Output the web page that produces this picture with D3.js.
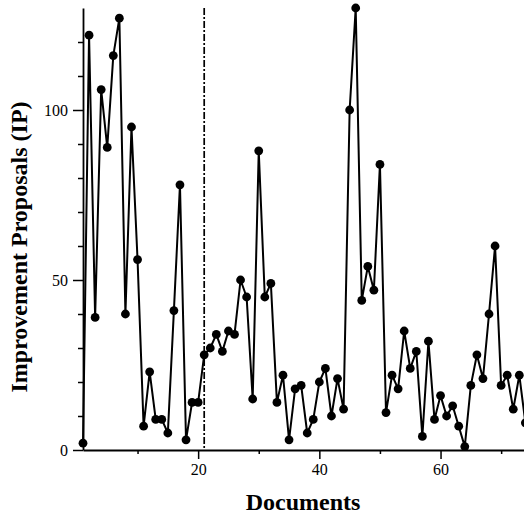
<!DOCTYPE html>
<html>
<head>
<meta charset="utf-8">
<script src="https://cdn.jsdelivr.net/npm/d3@7"></script>
<style>
    body { margin: 0; background: #fff; }
    svg { display: block; }
</style>
</head>
<body>
<svg id="drawing_region"></svg>
<script>
// Document numbers (x) and improvement proposals per document (y)
const documents = [1, 2, 3, 4, 5, 6, 7, 8, 9, 10, 11, 12, 13, 14, 15, 16, 17, 18, 19, 20,
    21, 22, 23, 24, 25, 26, 27, 28, 29, 30, 31, 32, 33, 34, 35, 36, 37, 38, 39, 40,
    41, 42, 43, 44, 45, 46, 47, 48, 49, 50, 51, 52, 53, 54, 55, 56, 57, 58, 59, 60,
    61, 62, 63, 64, 65, 66, 67, 68, 69, 70, 71, 72, 73, 74];
const proposals = [2, 122, 39, 106, 89, 116, 127, 40, 95, 56, 7, 23, 9, 9, 5, 41, 78, 3, 14, 14,
    28, 30, 34, 29, 35, 34, 50, 45, 15, 88, 45, 49, 14, 22, 3, 18, 19, 5, 9, 20,
    24, 10, 21, 12, 100, 130, 44, 54, 47, 84, 11, 22, 18, 35, 24, 29, 4, 32, 9, 16,
    10, 13, 7, 1, 19, 28, 21, 40, 60, 19, 22, 12, 22, 8];
const xMajorTicks = [20, 40, 60];
const xMinorTicks = [10, 30, 50, 70];
const yMajorTicks = [0, 50, 100];
const yMinorTicks = [10, 20, 30, 40, 60, 70, 80, 90, 110, 120];
const splitDocument = 21;
const xLabel = 'Documents';
const yLabel = 'Improvement Proposals (IP)';

const data = documents.map((d, i) => ({ x: d, y: proposals[i] }));

const config = {
    parent: '#drawing_region',
    width: 524,
    height: 515,
    left: 83,
    top: 8,
    bottom: 450,
    unit: 6.06,
};

const svg = d3.select(config.parent)
    .attr('width', config.width)
    .attr('height', config.height);

const xscale = d3.scaleLinear()
    .domain([1, 74])
    .range([config.left, config.left + 73 * config.unit]);

const yscale = d3.scaleLinear()
    .domain([0, 130])
    .range([config.bottom, config.top]);

const font = '"Liberation Serif", "Times New Roman", serif';

// x axis: labelled major ticks and short minor ticks
svg.append('g')
    .attr('transform', `translate(0, ${config.bottom})`)
    .call(d3.axisBottom(xscale).tickValues(xMajorTicks).tickSize(9).tickPadding(5).tickSizeOuter(0));
svg.append('g')
    .attr('transform', `translate(0, ${config.bottom})`)
    .call(d3.axisBottom(xscale).tickValues(xMinorTicks).tickSize(4).tickFormat('').tickSizeOuter(0))
    .select('.domain').remove();

// y axis
svg.append('g')
    .attr('transform', `translate(${config.left}, 0)`)
    .call(d3.axisLeft(yscale).tickValues(yMajorTicks).tickSize(10).tickPadding(5).tickSizeOuter(0));
svg.append('g')
    .attr('transform', `translate(${config.left}, 0)`)
    .call(d3.axisLeft(yscale).tickValues(yMinorTicks).tickSize(5).tickFormat('').tickSizeOuter(0))
    .select('.domain').remove();

svg.selectAll('.domain').attr('stroke', '#000').attr('stroke-width', 1.8);
svg.selectAll('.tick line').attr('stroke', '#000').attr('stroke-width', 1.5);
svg.selectAll('.tick text')
    .attr('font-family', font)
    .attr('font-size', 16)
    .attr('fill', '#000');

// dash-dot divider
svg.append('line')
    .attr('x1', xscale(splitDocument))
    .attr('x2', xscale(splitDocument))
    .attr('y1', yscale(130))
    .attr('y2', yscale(0))
    .attr('stroke', '#000')
    .attr('stroke-width', 1.7)
    .attr('stroke-dasharray', '7,2,2,2');

// series line
const line = d3.line()
    .x(d => xscale(d.x))
    .y(d => yscale(d.y));

svg.append('path')
    .datum(data)
    .attr('d', line)
    .attr('fill', 'none')
    .attr('stroke', '#000')
    .attr('stroke-width', 2)
    .attr('stroke-linejoin', 'round');

svg.selectAll('circle')
    .data(data)
    .enter()
    .append('circle')
    .attr('cx', d => xscale(d.x))
    .attr('cy', d => yscale(d.y))
    .attr('r', 4.4)
    .attr('fill', '#000');

// axis titles
svg.append('text')
    .attr('x', 303)
    .attr('y', 510)
    .attr('text-anchor', 'middle')
    .attr('font-family', font)
    .attr('font-size', 24)
    .attr('font-weight', 'bold')
    .text(xLabel);

svg.append('text')
    .attr('transform', 'translate(27, 247) rotate(-90)')
    .attr('text-anchor', 'middle')
    .attr('font-family', font)
    .attr('font-size', 24)
    .attr('font-weight', 'bold')
    .text(yLabel);
</script>
</body>
</html>
